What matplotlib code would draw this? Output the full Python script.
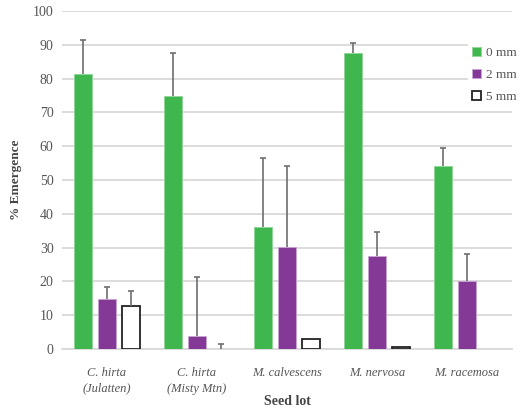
import numpy as np
import matplotlib
matplotlib.use('Agg')
import matplotlib.pyplot as plt

plt.rcParams['font.family'] = 'Liberation Serif'

lots = ['C. hirta\n(Julatten)', 'C. hirta\n(Misty Mtn)', 'M. calvescens', 'M. nervosa', 'M. racemosa']
series = ['0 mm', '2 mm', '5 mm']

em_0mm = [81.4, 74.8, 36.0, 87.5, 54.0]
em_2mm = [14.7, 3.9, 30.1, 27.4, 20.1]
em_5mm = [12.8, 0.0, 2.9, 0.7, 0.0]

err_0mm = [9.9, 12.8, 20.5, 3.0, 5.5]
err_2mm = [3.5, 17.5, 24.1, 7.3, 8.1]
err_5mm = [4.5, 1.4, 0.0, 0.0, 0.0]

fig = plt.figure(figsize=(5.2, 4.08), dpi=100)
ax = fig.add_axes([0.119, 0.1446, 0.866, 0.8284])

x = np.arange(len(lots))
w = 0.2
off = 0.267


def upper_err(xs, vals, errs):
    # only the upper half of the error bar, with a cap on top
    xs = np.asarray(xs, float)
    vals = np.asarray(vals, float)
    errs = np.asarray(errs, float)
    m = errs > 0
    ax.vlines(xs[m], vals[m], vals[m] + errs[m], color='#6e6e6e', lw=1.2, zorder=4)
    ax.plot(xs[m], vals[m] + errs[m], ls='none', marker='_', ms=5, mew=1.2,
            color='#6e6e6e', zorder=4)


ax.bar(x - off, em_0mm, w, color='#3fb64e', edgecolor='#8fd597', lw=0.6,
       label=series[0], zorder=3)
ax.bar(x, em_2mm, w, color='#843996', edgecolor='#c9a3d2', lw=0.6,
       label=series[1], zorder=3)
edges5 = ['#222222' if v > 0 else 'none' for v in em_5mm]
ax.bar(x + off, em_5mm, w, color='white', edgecolor=edges5, lw=1.3,
       label=series[2], zorder=3)
upper_err(x - off, em_0mm, err_0mm)
upper_err(x, em_2mm, err_2mm)
upper_err(x + off, em_5mm, err_5mm)

ax.set_xlim(-0.5, 4.5)
ax.set_ylim(0, 100)
ax.set_yticks(range(0, 101, 10))
ax.yaxis.grid(True, color='#d9d9d9', lw=1.3, zorder=0)
ax.set_axisbelow(True)
for s in ['top', 'right', 'left']:
    ax.spines[s].set_visible(False)
ax.spines['bottom'].set_color('#d9d9d9')
ax.spines['bottom'].set_linewidth(1.3)
ax.tick_params(axis='both', length=0, labelsize=10, colors='#555555', pad=6)
ax.set_xticks(x)
ax.set_xticklabels(lots, style='italic', fontsize=9, color='#555555', linespacing=1.4)
ax.tick_params(axis='x', pad=13)

ax.set_ylabel('% Emergence', fontsize=9.5, fontweight='bold', color='#444444', labelpad=8)
ax.set_xlabel('Seed lot', fontsize=10, fontweight='bold', color='#444444', labelpad=0)

leg = ax.legend(loc='upper left', bbox_to_anchor=(0.902, 0.905), frameon=True,
                fancybox=False, edgecolor='white', framealpha=1, fontsize=9.5,
                handlelength=0.65, handleheight=0.65, handletextpad=0.4,
                labelspacing=0.75, borderpad=0.3, borderaxespad=0)
for t in leg.get_texts():
    t.set_color('#555555')

plt.savefig('out.png', dpi=100)
